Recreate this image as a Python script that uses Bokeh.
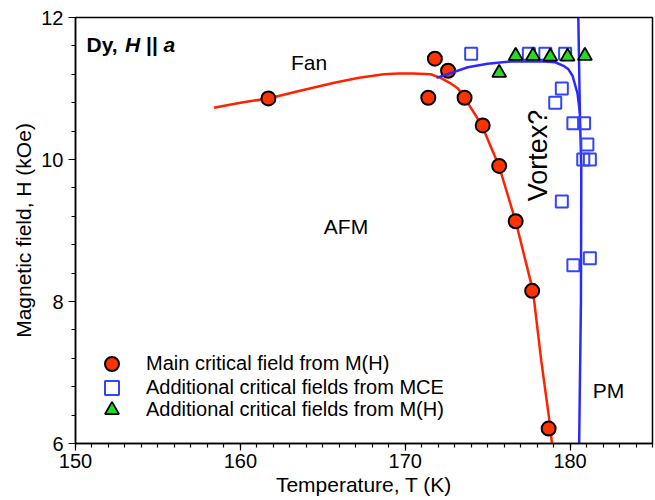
import math
from bokeh.plotting import figure
from bokeh.models import Range1d, Label, Legend, LegendItem, SingleIntervalTicker
from bokeh.embed import file_html
from bokeh.resources import INLINE

# ---- data ----
T_main = [161.7, 171.4, 171.8, 172.6, 173.6, 174.7, 175.7, 176.7, 177.7, 178.7]
H_main = [10.86, 10.87, 11.42, 11.25, 10.87, 10.48, 9.91, 9.13, 8.15, 6.21]

T_mce = [174.0, 177.5, 178.5, 179.7, 179.5, 179.1, 180.2, 180.85, 181.05, 180.8, 181.2, 179.5, 180.2, 181.2]
H_mce = [11.49, 11.49, 11.49, 11.49, 11.0, 10.8, 10.51, 10.51, 10.21, 10.0, 10.0, 9.41, 8.51, 8.61]

T_mh = [175.7, 176.7, 177.75, 178.8, 179.85, 180.9]
H_mh = [11.22, 11.46, 11.46, 11.45, 11.45, 11.46]

T_red = [158.4, 160.0, 161.7, 163.5, 165.7, 167.2, 168.7, 169.6, 170.5, 171.55, 172.15, 172.7, 173.2, 173.6,
         174.65, 175.7, 176.7, 177.75, 178.25, 178.8, 178.9]
H_red = [10.73, 10.80, 10.86, 10.96, 11.08, 11.15, 11.20, 11.21, 11.21, 11.20, 11.15, 11.08, 11.00, 10.87,
         10.48, 9.90, 9.13, 8.15, 7.17, 6.23, 6.0]

T_blue_curve = [171.9, 173.8, 175.0, 176.4, 178.4, 179.1, 179.6, 179.9, 180.15, 180.45, 180.6]
H_blue_curve = [11.15, 11.30, 11.35, 11.38, 11.38, 11.37, 11.32, 11.27, 11.18, 10.93, 10.65]

T_blue_line = [180.5, 180.6, 180.68, 180.66, 180.55]
H_blue_line = [12.0, 10.6, 9.9, 8.0, 6.0]

legend_labels = ["Main critical field from M(H)",
                 "Additional critical fields from MCE",
                 "Additional critical fields from M(H)"]

x_ticks_interval = 10
y_ticks_interval = 2

# ---- layout ----
W, H = 655, 500
L, R, TOP, B = 75, 3, 17, 57
X0, X1, Y0, Y1 = 150, 185, 6, 12
FW, FH = W - L - R, H - TOP - B

def px2x(px):
    return X0 + (px - L) * (X1 - X0) / FW

def px2y(py):
    return Y1 - (py - TOP) * (Y1 - Y0) / FH

FONT = "Liberation Sans"
RED = "#ff2200"
BLUE = "#2a2aff"
SQ = "#3344ff"
GREEN = "#22dd22"

p = figure(width=W, height=H, output_backend="svg", toolbar_location=None,
           x_range=Range1d(X0, X1), y_range=Range1d(Y0, Y1),
           min_border_left=L, min_border_right=R, min_border_top=TOP, min_border_bottom=B)
p.grid.visible = False
p.outline_line_color = "black"
p.outline_line_width = 1.5
p.background_fill_color = "white"

p.xaxis.ticker = SingleIntervalTicker(interval=x_ticks_interval, num_minor_ticks=10)
p.yaxis.ticker = SingleIntervalTicker(interval=y_ticks_interval, num_minor_ticks=5)
for ax in (p.xaxis, p.yaxis):
    ax.axis_line_width = 1.5
    ax.axis_line_color = "black"
    ax.major_tick_in = 0
    ax.major_tick_out = 7
    ax.minor_tick_in = 0
    ax.minor_tick_out = 4
    ax.major_tick_line_width = 1.2
    ax.minor_tick_line_width = 1.2
    ax.major_label_text_font = FONT
    ax.major_label_text_font_size = "20px"
    ax.major_label_text_color = "black"
    ax.axis_label_text_font = FONT
    ax.axis_label_text_font_size = "21px"
    ax.axis_label_text_font_style = "normal"
    ax.axis_label_text_color = "black"
p.xaxis.major_label_standoff = 3
p.yaxis.major_label_standoff = 5
p.xaxis.axis_label = "Temperature, T (K)"
p.yaxis.axis_label = "Magnetic field, H (kOe)"
p.xaxis.axis_label_standoff = 2
p.yaxis.axis_label_standoff = 3

r_red = p.line(T_red, H_red, line_color=RED, line_width=2.5)
r_main = p.scatter(T_main, H_main, marker="circle", size=14, fill_color="#ff3300",
                   line_color="black", line_width=2)
r_bc = p.line(T_blue_curve, H_blue_curve, line_color=BLUE, line_width=2.5)
r_bl = p.line(T_blue_line, H_blue_line, line_color=BLUE, line_width=2.5)
r_mce = p.scatter(T_mce, H_mce, marker="square", size=12, fill_color=None,
                  line_color=SQ, line_width=2)
r_mh = p.scatter(T_mh, H_mh, marker="triangle", size=14, fill_color=GREEN,
                 line_color="black", line_width=1.8)

# one legend per row so that rows can sit 23 px apart with large keys
row_centers = [363, 387, 409]
for lbl, rr, cy in zip(legend_labels, [r_main, r_mce, r_mh], row_centers):
    lg = Legend(items=[LegendItem(label=lbl, renderers=[rr])],
                location=(19, FH + TOP - cy - 17.5), padding=0, margin=0, spacing=0,
                glyph_width=35, glyph_height=35, label_height=23, label_standoff=17,
                label_text_font=FONT, label_text_font_size="20px", label_text_color="black",
                border_line_alpha=0, background_fill_alpha=0)
    p.add_layout(lg, "center")


def lab(text, px, py, size, style="normal", align="left", angle=0.0, baseline="alphabetic"):
    p.add_layout(Label(x=px2x(px), y=px2y(py), text=text, text_font=FONT,
                       text_font_size=f"{size}px", text_font_style=style, text_align=align,
                       text_baseline=baseline, angle=angle, text_color="black"))

# title: Dy, H || a  (21px bold)
s = 21 / 1000.0
tx = 86
lab("Dy,", tx, 43.5, 21, "bold")
lab("H", tx + 1834 * s, 43.5, 21, "bold italic")
lab("||", tx + 2834 * s, 43.5, 21, "bold")
lab("a", tx + 3672 * s, 43.5, 21, "bold italic")

# region labels
lab("Fan", 308.5, 62, 21, align="center")
lab("AFM", 345.5, 225.5, 21, align="center")
lab("PM", 608, 390, 21, align="center")
lab("Vortex?", 537, 155, 27, align="center", angle=math.pi / 2)

open("out.html", "w").write(file_html(p, INLINE))
